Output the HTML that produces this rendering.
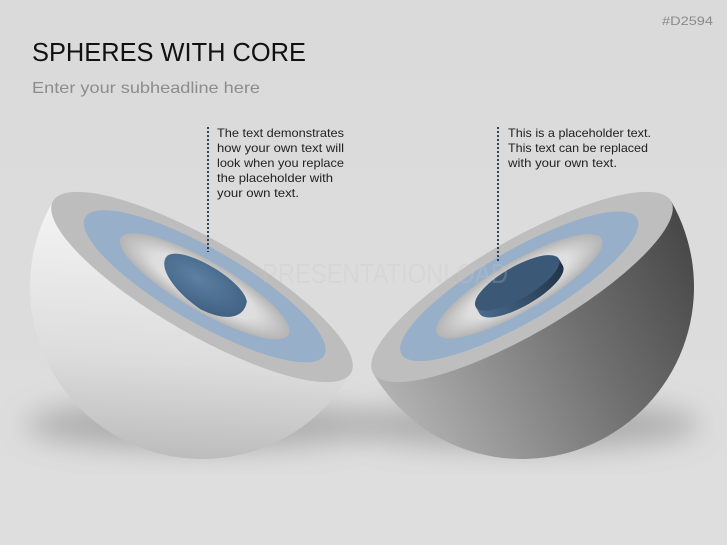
<!DOCTYPE html>
<html><head><meta charset="utf-8"><style>
html,body{margin:0;padding:0;background:#dcdcdc;}
svg{display:block;font-family:"Liberation Sans",sans-serif;}
</style></head><body>
<svg width="727" height="545" viewBox="0 0 727 545" xmlns="http://www.w3.org/2000/svg">
<defs>
<linearGradient id="bg" x1="0" y1="0" x2="0" y2="1"><stop offset="0" stop-color="#dadada"/><stop offset="1" stop-color="#dedede"/></linearGradient>
<filter id="blur" x="-50%" y="-50%" width="200%" height="200%"><feGaussianBlur stdDeviation="14"/></filter>
<linearGradient id="lb" x1="0" y1="0" x2="1" y2="1"><stop offset="0" stop-color="#f4f4f4"/><stop offset="0.5" stop-color="#dcdcdc"/><stop offset="1" stop-color="#a9a9a9"/></linearGradient>
<linearGradient id="rb" x1="0" y1="0" x2="1" y2="0"><stop offset="0" stop-color="#b2b2b2"/><stop offset="0.6" stop-color="#6e6e6e"/><stop offset="1" stop-color="#474747"/></linearGradient>
<radialGradient id="gr" cx="0.5" cy="0.5" r="0.5"><stop offset="0.6" stop-color="#dedede"/><stop offset="1" stop-color="#b4b4b4"/></radialGradient>
<radialGradient id="core" cx="0.4" cy="0.4" r="0.7"><stop offset="0" stop-color="#5d80a3"/><stop offset="1" stop-color="#3e5f80"/></radialGradient>
<linearGradient id="disc" x1="0" y1="0" x2="1" y2="0"><stop offset="0" stop-color="#4a6a8c"/><stop offset="1" stop-color="#1f3347"/></linearGradient>
</defs>
<rect width="727" height="545" fill="url(#bg)"/>
<!-- shadows -->
<ellipse cx="200" cy="425" rx="175" ry="24" fill="#999" filter="url(#blur)" opacity="0.7"/>
<ellipse cx="525" cy="425" rx="175" ry="24" fill="#999" filter="url(#blur)" opacity="0.7"/>

<!-- left hemisphere -->
<g transform="translate(202,287) rotate(30)">
<path d="M-172,0 A172,172 0 0 0 172,0 Z" fill="url(#lb)"/>
<ellipse cx="0" cy="0" rx="172" ry="47" fill="#bdbdbd"/>
<ellipse cx="2" cy="-2" rx="138" ry="37" fill="#97afc8"/>
<ellipse cx="2" cy="-2" rx="97" ry="25" fill="url(#gr)"/>
<path d="M-46,-8 C-44,-26 30,-28 46,-10 C52,5 40,18 10,20 C-20,18 -47,6 -46,-8 Z" fill="url(#core)"/>
</g>

<!-- right hemisphere -->
<g transform="translate(522,287) rotate(-30)">
<path d="M-172,0 A172,172 0 0 0 172,0 Z" fill="url(#rb)"/>
<ellipse cx="0" cy="0" rx="172" ry="47" fill="#bebebe"/>
<ellipse cx="-2" cy="-2" rx="136" ry="36" fill="#97afc8"/>
<ellipse cx="-2" cy="-2" rx="95" ry="25" fill="url(#gr)"/>
<ellipse cx="-2" cy="2" rx="48" ry="16" fill="url(#disc)"/>
<rect x="-50" y="-6" width="96" height="8" fill="url(#disc)"/>
<ellipse cx="-2" cy="-6" rx="48" ry="16" fill="#3b5877"/>
</g>

<!-- watermark -->
<text x="262" y="283" font-size="28" fill="#c8c8c8" opacity="0.25" textLength="246" lengthAdjust="spacingAndGlyphs">PRESENTATIONLOAD</text>

<!-- header -->
<text x="662" y="25" font-size="12" fill="#8a8a8a" textLength="51" lengthAdjust="spacingAndGlyphs">#D2594</text>
<text x="32" y="61" font-size="26" fill="#111" textLength="274" lengthAdjust="spacingAndGlyphs">SPHERES WITH CORE</text>
<text x="32" y="93" font-size="16" fill="#8c8c8c" textLength="228" lengthAdjust="spacingAndGlyphs">Enter your subheadline here</text>

<!-- callouts -->
<line x1="208" y1="127" x2="208" y2="252" stroke="#2f4358" stroke-width="2" stroke-dasharray="2,2"/>
<g font-size="12" fill="#222">
<text x="217" y="137" textLength="127" lengthAdjust="spacingAndGlyphs">The text demonstrates</text>
<text x="217" y="152" textLength="127" lengthAdjust="spacingAndGlyphs">how your own text will</text>
<text x="217" y="167" textLength="127" lengthAdjust="spacingAndGlyphs">look when you replace</text>
<text x="217" y="182" textLength="116" lengthAdjust="spacingAndGlyphs">the placeholder with</text>
<text x="217" y="197" textLength="82" lengthAdjust="spacingAndGlyphs">your own text.</text>
</g>
<line x1="498" y1="127" x2="498" y2="262" stroke="#2f4358" stroke-width="2" stroke-dasharray="2,2"/>
<g font-size="12" fill="#222">
<text x="508" y="137" textLength="143" lengthAdjust="spacingAndGlyphs">This is a placeholder text.</text>
<text x="508" y="152" textLength="140" lengthAdjust="spacingAndGlyphs">This text can be replaced</text>
<text x="508" y="167" textLength="109" lengthAdjust="spacingAndGlyphs">with your own text.</text>
</g>
</svg>
</body></html>
